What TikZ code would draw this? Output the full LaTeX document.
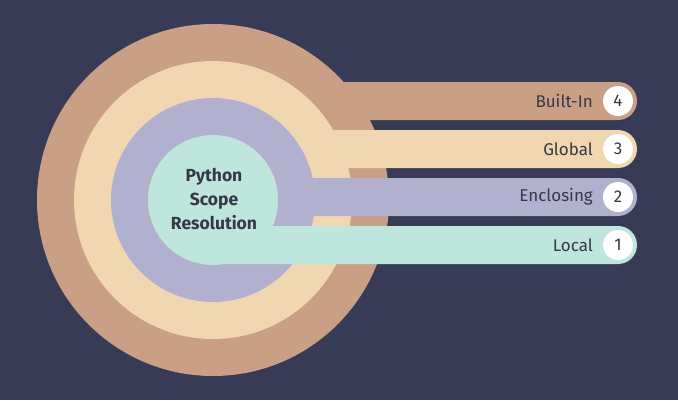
\documentclass[tikz,border=0pt]{standalone}
\usepackage{fontspec}
\setmainfont{Fira Sans}

\definecolor{bgnavy}{HTML}{373B55}
\definecolor{builtin}{HTML}{C9A086}
\definecolor{global}{HTML}{F0D7B1}
\definecolor{enclosing}{HTML}{B1B1CF}
\definecolor{local}{HTML}{BEE6DD}
\definecolor{ink}{HTML}{363747}

\begin{document}
\begin{tikzpicture}[x=1pt, y=-1pt]
    \tikzset{scopelabel/.style={anchor=east, text=ink, inner sep=0pt, font=\fontsize{17}{17}\selectfont}} %% label left of the badge
    \tikzset{badge/.style={circle, fill=white, text=ink, minimum size=30pt, inner sep=0pt, font=\fontsize{17}{17}\selectfont}}

    \fill[bgnavy] (0,0) rectangle (678,400);

    % rings and bars, outermost first
    \foreach \r/\yb/\col in {176/101/builtin, 139/149/global, 102/197/enclosing, 65/245/local} {
            \fill[\col] (213,200) circle (\r pt);
            \fill[\col] (213,\yb-19) -- (618,\yb-19) arc[start angle=90, end angle=-90, radius=19pt] -- (213,\yb+19) -- cycle;
        }

    \foreach \yb/\num/\name in {101/4/Built-In, 149/3/Global, 197/2/Enclosing, 245/1/Local} {
            \node[badge] (n\num) at (618,\yb) {\num};
            \node[scopelabel] (l\num) at (593,\yb) {\name};
        }

    \node[align=center, text=ink, font=\fontsize{17.5}{24}\selectfont\bfseries] (title) at (214,199) {Python\\Scope\\Resolution};
\end{tikzpicture}
\end{document}
